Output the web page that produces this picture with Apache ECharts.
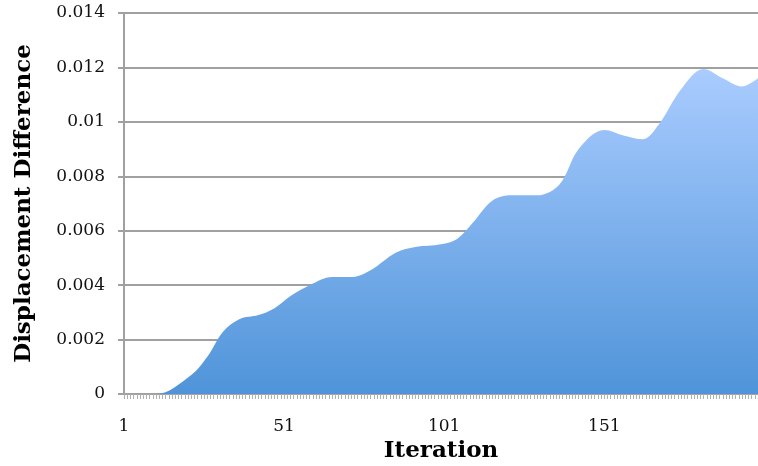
<!DOCTYPE html>
<html>
<head>
<meta charset="utf-8">
<script src="https://cdn.jsdelivr.net/npm/echarts@6/dist/echarts.min.js"></script>
<style>html,body{margin:0;padding:0;background:#fff}#c{width:758px;height:466px}</style>
</head>
<body>
<div id="c"></div>
<script>
// Categories: iterations 1..199
const iterationCount = 199;
const categories = [];
for (let i = 1; i <= iterationCount; i++) categories.push(String(i));

const sampleIterations = [1, 11, 22, 27, 32, 37, 43, 48, 53, 59, 66, 72, 78, 86, 92, 100, 105, 110, 116, 122, 130, 137, 143, 151, 157, 163, 168, 175, 182, 188, 194, 199];
const sampleValues    = [0, 0, 0.0007, 0.00137, 0.0023, 0.00275, 0.0029, 0.00315, 0.0036, 0.004, 0.0043, 0.0043, 0.00455, 0.0052, 0.0054, 0.0055, 0.0057, 0.0063, 0.0071, 0.0073, 0.0073, 0.0077, 0.009, 0.0097, 0.0095, 0.00936, 0.0099, 0.0112, 0.01194, 0.0116, 0.0113, 0.0116];

const yTicks = ['0', '0.002', '0.004', '0.006', '0.008', '0.01', '0.012', '0.014'];

const seriesData = sampleIterations.map((it, k) => [it - 1, sampleValues[k]]);

const chart = echarts.init(document.getElementById('c'), null, {renderer: 'canvas'});
const serif = 'DejaVu Serif';
chart.setOption({
  animation: false,
  grid: {left: 124, right: 0, top: 13, bottom: 72, containLabel: false, outerBoundsMode: 'none'},
  xAxis: {
    type: 'category',
    data: categories,
    boundaryGap: false,
    name: 'Iteration',
    nameLocation: 'middle',
    nameGap: 44,
    nameTextStyle: {fontFamily: serif, fontWeight: 'bold', fontSize: 23, color: '#000'},
    axisLine: {lineStyle: {color: '#a0a0a0', width: 2}},
    axisTick: {show: true, interval: 0, length: 5, lineStyle: {color: '#b0b0b0', width: 1}},
    axisLabel: {interval: 49, margin: 24, fontFamily: serif, fontSize: 17, color: '#111'},
    splitLine: {show: false}
  },
  yAxis: {
    type: 'value',
    min: 0,
    max: 0.014,
    interval: 0.002,
    name: 'Displacement Difference',
    nameLocation: 'middle',
    nameGap: 88,
    nameTextStyle: {fontFamily: serif, fontWeight: 'bold', fontSize: 23, color: '#000'},
    axisLine: {show: true, lineStyle: {color: '#a0a0a0', width: 2}},
    axisTick: {show: true, length: 6, lineStyle: {color: '#a0a0a0', width: 2}},
    axisLabel: {margin: 19, fontFamily: serif, fontSize: 17, color: '#111',
      formatter: function (v) { const idx = Math.round(v / 0.002); return yTicks[idx] !== undefined ? yTicks[idx] : String(v); }},
    splitLine: {show: true, lineStyle: {color: '#a0a0a0', width: 2}}
  },
  series: [{
    type: 'line',
    data: seriesData,
    smooth: 0.35,
    showSymbol: false,
    lineStyle: {width: 0},
    areaStyle: {
      opacity: 1,
      color: new echarts.graphic.LinearGradient(0, 0, 0, 1, [
        {offset: 0, color: 'rgb(170,204,255)'},
        {offset: 1, color: 'rgb(79,148,217)'}
      ])
    }
  }]
});
</script>
</body>
</html>
